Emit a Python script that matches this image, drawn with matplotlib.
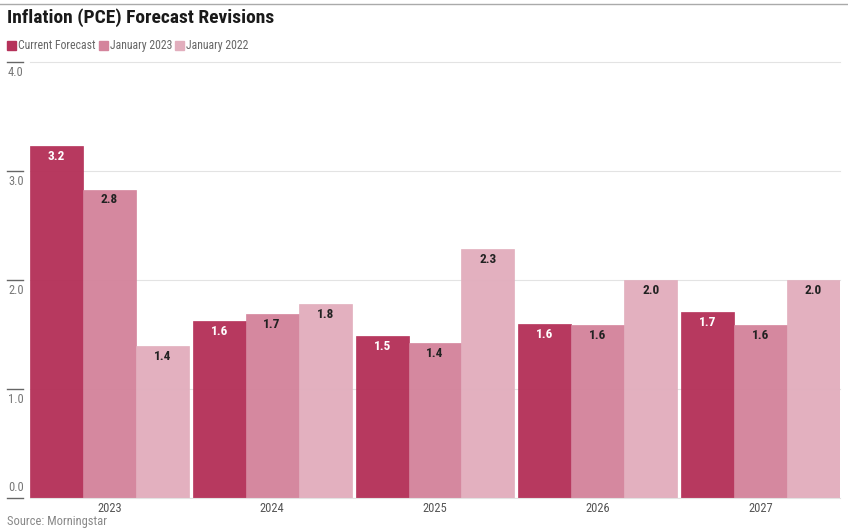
import numpy as np
import matplotlib.pyplot as plt
from matplotlib import font_manager

years = ["2023", "2024", "2025", "2026", "2027"]
series = ["Current Forecast", "January 2023", "January 2022"]
current = [3.23, 1.62, 1.49, 1.60, 1.71]
jan2023 = [2.83, 1.69, 1.42, 1.59, 1.59]
jan2022 = [1.39, 1.78, 2.28, 2.00, 2.00]
yticks = [0.0, 1.0, 2.0, 3.0, 4.0]

colors = ["#b5325a", "#d4849c", "#e2aebd"]
label_colors = ["white", "#222222", "#222222"]

# pick a narrow font if there is one
names = set(f.name for f in font_manager.fontManager.ttflist)
fam = ["Roboto", "DejaVu Sans"]
for cand in ["Roboto Condensed", "Open Sans Condensed", "Liberation Sans Narrow"]:
    if cand in names:
        fam = [cand, "DejaVu Sans"]
        break
plt.rcParams['font.family'] = fam

fig = plt.figure(figsize=(8.48, 5.31), dpi=100)
ax = fig.add_axes([30/848, 1-498/531, 810/848, (498-62)/531])

x = np.arange(len(years))
w = 0.325
data = [current, jan2023, jan2022]
for i, vals in enumerate(data):
    xs = x + (i - 1) * w
    ax.bar(xs, vals, width=w, color=colors[i], edgecolor=colors[i], linewidth=0.5,
           alpha=0.97, zorder=3, label=series[i])
    for xx, v in zip(xs, vals):
        ax.annotate(f"{v:.1f}", (xx, v), xytext=(0, -7.5), textcoords="offset points",
                    ha="center", va="center", fontsize=9.5, fontweight="bold",
                    color=label_colors[i], zorder=4)

ax.set_xlim(-0.4875, 4.4875)
ax.set_ylim(0, 4)
ax.set_yticks([])
ax.set_xticks(x)
ax.set_xticklabels(years, fontsize=9, color="#555555")
ax.tick_params(axis="x", length=0, pad=3)
for s in ax.spines.values():
    s.set_visible(False)

# grid + left tick marks with labels under them (0.0 sits above)
tr = ax.get_yaxis_transform()
for t in yticks:
    ax.plot([0, 1], [t, t], transform=tr, color="#e3e3e3", lw=0.8, zorder=1, clip_on=False)
    ax.plot([-23/810, -7/810], [t, t], transform=tr, color="#666666", lw=1.0, clip_on=False)
    if t == 0:
        off, va = 3, "bottom"
    else:
        off, va = -3, "top"
    ax.annotate(f"{t:.1f}", (-22/810, t), xycoords=tr, xytext=(0, off), textcoords="offset points",
                ha="left", va=va, fontsize=9, color="#777777", annotation_clip=False)
ax.axhline(0, color="#dddddd", lw=0.8, zorder=4)

# top rule
fig.add_artist(plt.Line2D([0.0, 1.0], [1-4/531, 1-4/531], color="#aaaaaa", lw=1))

fig.text(7/848, 1-18/531, "Inflation (PCE) Forecast Revisions", fontsize=14, fontweight="bold",
         color="#1a1a1a", va="center", ha="left")

# legend drawn by hand
lx = 7
for i, name in enumerate(series):
    fig.patches.append(plt.Rectangle((lx/848, 1-50/531), 9/848, 9/531, color=colors[i],
                                     transform=fig.transFigure, figure=fig))
    t = fig.text((lx + 11)/848, 1-45.5/531, name, fontsize=8.5, color="#666666", va="center", ha="left")
    fig.canvas.draw()
    bb = t.get_window_extent()
    lx = bb.x1 + 3

fig.text(7/848, 1-521/531, "Source: Morningstar", fontsize=9, color="#888888", va="center", ha="left")

fig.savefig("out.png", dpi=100)
